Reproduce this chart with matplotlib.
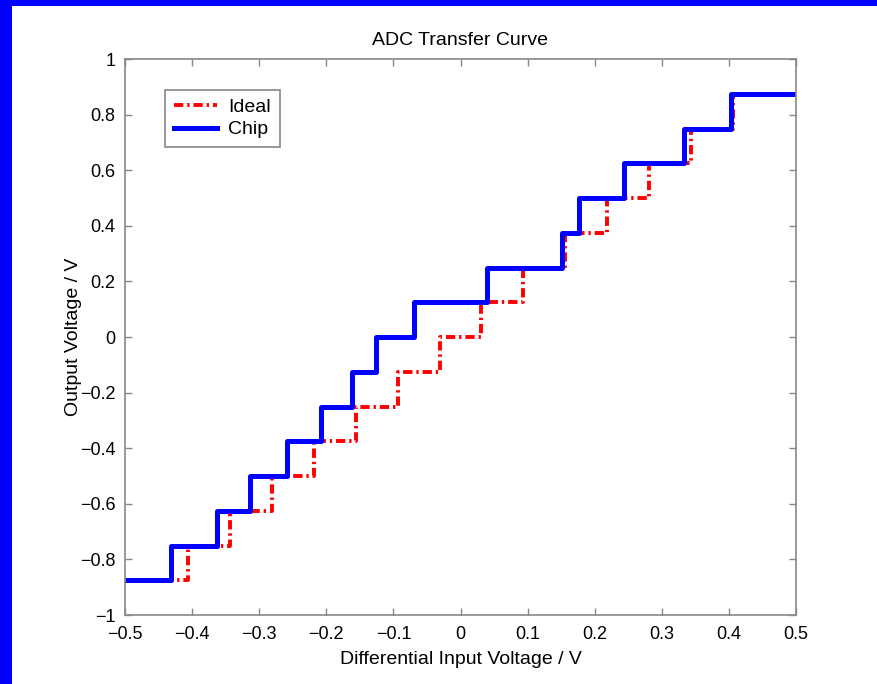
import matplotlib
matplotlib.use("Agg")
import matplotlib.pyplot as plt
from matplotlib.patches import Rectangle

plt.rcParams['font.family'] = ['Liberation Sans', 'DejaVu Sans']

# Output code levels (V)
levels = [-0.875, -0.75, -0.625, -0.5, -0.375, -0.25, -0.125, 0.0,
          0.125, 0.25, 0.375, 0.5, 0.625, 0.75, 0.875]
# Ideal transition thresholds (V)
ideal_thresholds = [-0.40625, -0.34375, -0.28125, -0.21875, -0.15625, -0.09375, -0.03125,
                    0.03125, 0.09375, 0.15625, 0.21875, 0.28125, 0.34375, 0.40625]
# Measured chip transition thresholds (V)
chip_thresholds = [-0.432, -0.363, -0.313, -0.259, -0.208, -0.161, -0.126,
                   -0.070, 0.040, 0.152, 0.177, 0.244, 0.333, 0.403]

x_range = [-0.5, 0.5]

fig = plt.figure(figsize=(8.77, 6.84), dpi=100)
fig.patch.set_facecolor('white')
# blue slide border
fig.add_artist(Rectangle((0, 0), 12 / 877, 1, transform=fig.transFigure,
                         facecolor='#0000ff', edgecolor='none', zorder=10))
fig.add_artist(Rectangle((0, 1 - 6 / 684), 1, 6 / 684, transform=fig.transFigure,
                         facecolor='#0000ff', edgecolor='none', zorder=10))

ax = fig.add_axes([125 / 877, 1 - 615 / 684, (796 - 125) / 877, (615 - 59) / 684])

xi = [x_range[0]] + ideal_thresholds + [x_range[1]]
yi = levels + [levels[-1]]
xc = [x_range[0]] + chip_thresholds + [x_range[1]]
yc = levels + [levels[-1]]

ax.plot(xi, yi, drawstyle='steps-post', color='#ff0000', lw=2.8,
        dashes=[2.4, 1.0, 0.6, 1.0], label='Ideal')
ax.plot(xc, yc, drawstyle='steps-post', color='#0000ff', lw=3.6, label='Chip')

ax.set_xlim(-0.5, 0.5)
ax.set_ylim(-1, 1)
ax.set_xticks([-0.5, -0.4, -0.3, -0.2, -0.1, 0, 0.1, 0.2, 0.3, 0.4, 0.5])
ax.set_yticks([-1, -0.8, -0.6, -0.4, -0.2, 0, 0.2, 0.4, 0.6, 0.8, 1])
ax.set_xticklabels(['\u22120.5', '\u22120.4', '\u22120.3', '\u22120.2', '\u22120.1', '0',
                    '0.1', '0.2', '0.3', '0.4', '0.5'])
ax.set_yticklabels(['\u22121', '\u22120.8', '\u22120.6', '\u22120.4', '\u22120.2', '0',
                    '0.2', '0.4', '0.6', '0.8', '1'])
ax.tick_params(direction='in', top=True, right=True, length=5, width=1,
               color='#888888', labelsize=13)
ax.tick_params(axis='x', pad=8)
ax.tick_params(axis='y', pad=7)
for s in ax.spines.values():
    s.set_color('#888888')
    s.set_linewidth(1.2)

ax.set_title('ADC Transfer Curve', fontsize=14, pad=10)
ax.set_xlabel('Differential Input Voltage / V', fontsize=14, labelpad=6)
ax.set_ylabel('Output Voltage / V', fontsize=14, labelpad=-2)

leg = ax.legend(loc='upper left', bbox_to_anchor=(0.06, 0.945), fontsize=14,
                fancybox=False, framealpha=1, edgecolor='#888888',
                handlelength=2.2, borderpad=0.45, labelspacing=0.25,
                handletextpad=0.6, borderaxespad=0)
leg.get_frame().set_linewidth(1.2)

fig.savefig('out.png', dpi=100)
